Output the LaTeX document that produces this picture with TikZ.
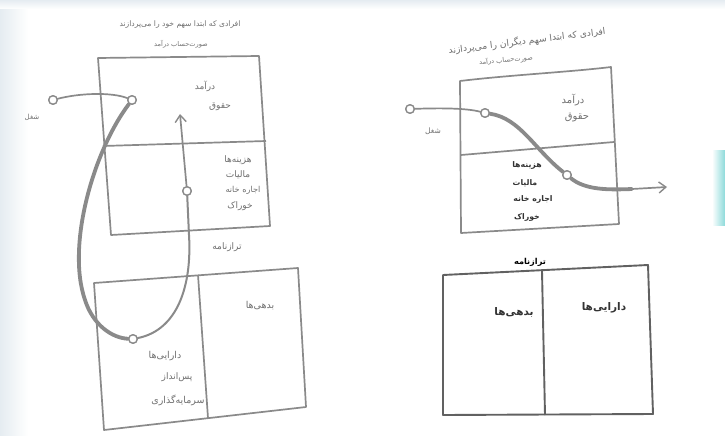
\documentclass[tikz,border=0pt]{standalone}
\usepackage{fontspec}
\usetikzlibrary{arrows.meta}
\newfontfamily\fa[Script=Arabic]{DejaVu Sans}
\TeXXeTstate=1
\definecolor{lineg}{HTML}{8A8A8A}
\definecolor{txtl}{HTML}{707070}
\definecolor{txtd}{HTML}{333333}
\definecolor{bgb}{HTML}{E5ECF1}
\tikzset{
  boxline/.style={draw=lineg, line width=1.7pt, line join=round},
  ltxt/.style={text=txtl, font=\fa\fontsize{9}{10}\selectfont, inner sep=1pt},
  rtxt/.style={text=txtd, font=\fa\bfseries\fontsize{7.8}{9}\selectfont, inner sep=1pt},
  htxt/.style={text=txtl, font=\fa\fontsize{6.6}{8}\selectfont, inner sep=1pt},
  dot/.style={circle, draw=lineg, fill=white, line width=1.3pt, minimum size=8.5pt, inner sep=0pt},
  thickflow/.style={draw=lineg, line width=3.8pt, line cap=round},
  thinflow/.style={draw=lineg, line width=1.7pt, line cap=round},
  tip/.style={-{Straight Barb[length=7pt,width=11pt,line width=1.4pt]}}
}
\newcommand{\fat}[1]{\beginR #1\endR}
\begin{document}
\begin{tikzpicture}[x=1pt,y=-1pt]
\useasboundingbox (0,0) rectangle (725,436);
\fill[white] (0,0) rectangle (725,436);
% screen background tint
\shade[left color=bgb, right color=white] (0,0) rectangle (28,436);
\shade[top color=bgb, bottom color=white] (0,0) rectangle (725,9);
\shade[left color=white, right color=cyan!35!teal!45] (712,150) rectangle (725,225);

% ---------- LEFT ----------
\node[htxt, font=\fa\fontsize{7.6}{9}\selectfont] (lh1) at (180,25) {\fat{افرادی که ابتدا سهم خود را می‌پردازند}};
\node[htxt] (lh2) at (181,44) {\fat{صورت‌حساب درآمد}};

\draw[boxline] (98,58) -- (259,56) -- (270,226) -- (111,235) -- cycle;
\coordinate (ldivL) at (103,146);
\coordinate (ldivR) at (266,141);
\draw[boxline] (ldivL) -- (ldivR);

\node[ltxt] (lin) at (205,86) {\fat{درآمد}};
\node[ltxt] (lsal) at (220,107) {\fat{حقوق}};
\node[ltxt] (lexp) at (238,160) {\fat{هزینه‌ها}};
\node[ltxt] (ltax) at (238,175) {\fat{مالیات}};
\node[ltxt, font=\fa\fontsize{8.2}{9}\selectfont] (lrent) at (243,190) {\fat{اجاره خانه}};
\node[ltxt] (lfood) at (240,206) {\fat{خوراک}};
\node[ltxt, font=\fa\fontsize{7}{8}\selectfont] (ljob) at (32,117) {\fat{شغل}};
\node[ltxt] (lbal) at (227,247) {\fat{ترازنامه}};

\draw[boxline] (94,283) -- (298,268) -- (306,407) -- (104,430) -- cycle;
\coordinate (lbdT) at (198,275);
\coordinate (lbdB) at (208,418);
\draw[boxline] (lbdT) -- (lbdB);
\node[ltxt, font=\fa\fontsize{9.5}{10}\selectfont] (lliab) at (260,306) {\fat{بدهی‌ها}};
\node[ltxt, font=\fa\fontsize{9.5}{10}\selectfont] (lass) at (165,356) {\fat{دارایی‌ها}};
\node[ltxt] (lsav) at (177,377) {\fat{پس‌انداز}};
\node[ltxt, font=\fa\fontsize{9.5}{10}\selectfont] (linv) at (178,400) {\fat{سرمایه‌گذاری}};

% flow on the left
\node[dot] (c1) at (53,100) {};
\node[dot] (c2) at (132,100) {};
\node[dot] (c3) at (133,339) {};
\node[dot] (c4) at (187,191) {};
\coordinate (larr) at (180,114);
\draw[thinflow] (c1) .. controls (80,93) and (112,92) .. (c2);
\draw[thickflow] (c2) .. controls (94,150) and (66,245) .. (85,300)
   .. controls (93,325) and (112,338) .. (c3);
\draw[thinflow, line width=2pt] (c3) .. controls (178,330) and (192,285) .. (189,235) -- (c4);
\draw[thinflow, tip] (c4) -- (larr);
\node[dot] at (c1) {};
\node[dot] at (c2) {};
\node[dot] at (c3) {};
\node[dot] at (c4) {};

% ---------- RIGHT ----------
\node[htxt, font=\fa\fontsize{9.2}{10}\selectfont, rotate=7] (rh1) at (527,41) {\fat{افرادی که ابتدا سهم دیگران را می‌پردازند}};
\node[htxt, rotate=5] (rh2) at (506,60) {\fat{صورت‌حساب درآمد}};

\draw[boxline] (460,81) .. controls (510,75) and (570,72) .. (611,67)
   -- (619,224) -- (461,233) -- cycle;
\coordinate (rdivL) at (461,155);
\coordinate (rdivR) at (614,142);
\draw[boxline] (rdivL) -- (rdivR);

\node[ltxt, font=\fa\fontsize{10}{11}\selectfont] (rin) at (573,100) {\fat{درآمد}};
\node[ltxt, font=\fa\fontsize{10}{11}\selectfont] (rsal) at (577,118) {\fat{حقوق}};
\node[ltxt, font=\fa\fontsize{7.5}{9}\selectfont] (rjob) at (433,131) {\fat{شغل}};
\node[rtxt] (rexp) at (527,165) {\fat{هزینه‌ها}};
\node[rtxt] (rtax) at (525,183) {\fat{مالیات}};
\node[rtxt] (rrent) at (533,199) {\fat{اجاره خانه}};
\node[rtxt] (rfood) at (527,217) {\fat{خوراک}};

\node[dot] (c5) at (410,109) {};
\node[dot] (c6) at (485,113) {};
\node[dot] (c7) at (567,175) {};
\coordinate (rmid) at (632,189);
\coordinate (rarr) at (667,187);
\draw[thinflow] (c5) .. controls (440,108) and (466,108) .. (c6);
\draw[thickflow] (c6) .. controls (520,118) and (535,150) .. (c7)
   .. controls (585,190) and (608,190) .. (rmid);
\draw[thinflow, tip] (rmid) -- (rarr);
\node[dot] at (c5) {};
\node[dot] at (c6) {};
\node[dot] at (c7) {};

\node[rtxt, text=black, font=\fa\bfseries\fontsize{8.2}{9}\selectfont] (rbal) at (530,262) {\fat{ترازنامه}};
\draw[boxline, line width=1.9pt, draw=black!62] (443,275) -- (648,265) -- (653,414) -- (443,415) -- cycle;
\coordinate (rbdT) at (542,271);
\coordinate (rbdB) at (545,415);
\draw[boxline, line width=1.9pt, draw=black!62] (rbdT) -- (rbdB);
\node[rtxt, font=\fa\bfseries\fontsize{10.5}{12}\selectfont] (rliab) at (514,312) {\fat{بدهی‌ها}};
\node[rtxt, font=\fa\bfseries\fontsize{10.5}{12}\selectfont] (rass) at (604,308) {\fat{دارایی‌ها}};
\end{tikzpicture}
\end{document}
